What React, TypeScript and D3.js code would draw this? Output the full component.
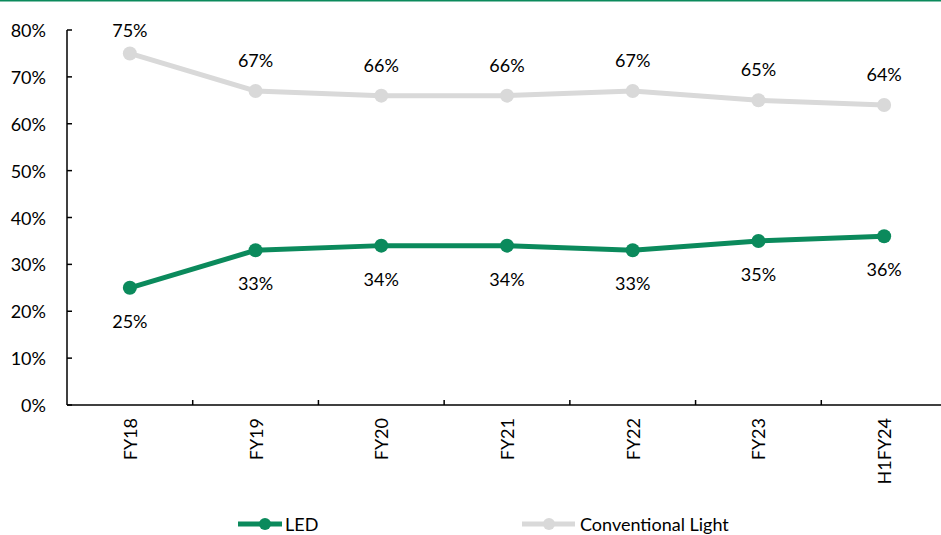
import React from "react";
import * as d3 from "d3";

const categories = ["FY18", "FY19", "FY20", "FY21", "FY22", "FY23", "H1FY24"];
const ledValues = [25, 33, 34, 34, 33, 35, 36];
const conventionalValues = [75, 67, 66, 66, 67, 65, 64];
const yTicks = [0, 10, 20, 30, 40, 50, 60, 70, 80];

const W = 941;
const H = 535;
const GREEN = "#0b8a5c";
const GRAY = "#d9d9d9";
const FONT = "Lato, 'Open Sans', sans-serif";
const FS = 18;
const LEG_Y = 524;

export default function App() {
  const x = d3.scaleBand<string>().domain(categories).range([67, 947]);
  const y = d3.scaleLinear().domain([0, 80]).range([405, 30]);
  const cx = (c: string) => (x(c) as number) + x.bandwidth() / 2;
  const line = d3
    .line<number>()
    .x((_, i) => cx(categories[i]))
    .y((d) => y(d));

  return (
    <svg
      width={W}
      height={H}
      style={{ position: "absolute", left: 0, top: 0, background: "#fff" }}
      fontFamily={FONT}
    >
      <rect x={0} y={0} width={W} height={H} fill="#fff" />
      <line x1={0} x2={W} y1={0.75} y2={0.75} stroke={GREEN} strokeWidth={1.5} />

      {/* y axis */}
      <line x1={67} x2={67} y1={y(80)} y2={y(0)} stroke="#000" strokeWidth={1.5} />
      {yTicks.map((t) => (
        <g key={t}>
          <line x1={67} x2={72} y1={y(t)} y2={y(t)} stroke="#000" strokeWidth={1.5} />
          <text x={46} y={y(t)} textAnchor="end" dominantBaseline="central" fontSize={FS} fill="#000">
            {t}%
          </text>
        </g>
      ))}

      {/* x axis */}
      <line x1={67} x2={W} y1={y(0)} y2={y(0)} stroke="#000" strokeWidth={1.5} />
      {categories.slice(1).map((c) => (
        <line key={c} x1={x(c) as number} x2={x(c) as number} y1={y(0)} y2={y(0) - 5} stroke="#000" strokeWidth={1.5} />
      ))}
      {categories.map((c) => (
        <text
          key={c}
          transform={`translate(${cx(c)},418) rotate(-90)`}
          textAnchor="end"
          dominantBaseline="central"
          fontSize={FS}
          fill="#000"
        >
          {c}
        </text>
      ))}

      {/* conventional */}
      <path d={line(conventionalValues) || ""} fill="none" stroke={GRAY} strokeWidth={5} />
      {conventionalValues.map((v, i) => (
        <g key={i}>
          <circle cx={cx(categories[i])} cy={y(v)} r={7} fill={GRAY} />
          <text
            x={cx(categories[i])}
            y={Math.max(y(v) - 31, 30)}
            textAnchor="middle"
            dominantBaseline="central"
            fontSize={FS}
            fill="#000"
          >
            {v}%
          </text>
        </g>
      ))}

      {/* LED */}
      <path d={line(ledValues) || ""} fill="none" stroke={GREEN} strokeWidth={5} />
      {ledValues.map((v, i) => (
        <g key={i}>
          <circle cx={cx(categories[i])} cy={y(v)} r={7} fill={GREEN} />
          <text
            x={cx(categories[i])}
            y={y(v) + 33}
            textAnchor="middle"
            dominantBaseline="central"
            fontSize={FS}
            fill="#000"
          >
            {v}%
          </text>
        </g>
      ))}

      {/* legend */}
      <g>
        <line x1={238} x2={282} y1={LEG_Y} y2={LEG_Y} stroke={GREEN} strokeWidth={5} />
        <circle cx={265} cy={LEG_Y} r={6} fill={GREEN} />
        <text x={285} y={LEG_Y} dominantBaseline="central" fontSize={FS} fill="#000">LED</text>
        <line x1={522} x2={575} y1={LEG_Y} y2={LEG_Y} stroke={GRAY} strokeWidth={5} />
        <circle cx={549} cy={LEG_Y} r={6} fill={GRAY} />
        <text x={580} y={LEG_Y} dominantBaseline="central" fontSize={FS} fill="#000">Conventional Light</text>
      </g>
    </svg>
  );
}
